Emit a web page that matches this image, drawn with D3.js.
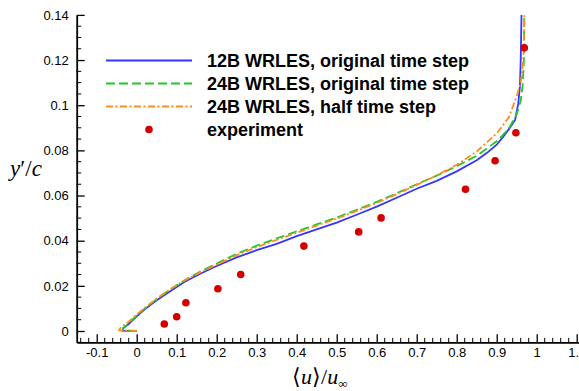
<!DOCTYPE html>
<html><head><meta charset="utf-8">
<script src="https://cdn.jsdelivr.net/npm/d3@7"></script>
<style>body{margin:0;background:#fff}svg{display:block}</style>
</head><body>
<svg id="c" width="579" height="391"></svg>
<script>
// ---- data ----
const xTicks = [-0.1,0,0.1,0.2,0.3,0.4,0.5,0.6,0.7,0.8,0.9,1,1.1];
const xTickLabels = ["-0.1","0","0.1","0.2","0.3","0.4","0.5","0.6","0.7","0.8","0.9","1","1.1"];
const yTicks = [0,0.02,0.04,0.06,0.08,0.1,0.12,0.14];
const yTickLabels = ["0","0.02","0.04","0.06","0.08","0.1","0.12","0.14"];
const seriesNames = ["12B WRLES, original time step","24B WRLES, original time step","24B WRLES, half time step","experiment"];

const u12 = [0,-0.035,-0.034,-0.02,0,0.02,0.05,0.08,0.12,0.16,0.2,0.25,0.3,0.35,0.4,0.45,0.5,0.55,0.6,0.65,0.7,0.75,0.8,0.85,0.875,0.9,0.9165,0.93,0.946,0.954,0.958,0.96,0.961,0.962];
const y12 = [0,0.0002,0.0012,0.0031,0.0065,0.0096,0.0136,0.0172,0.0218,0.0255,0.0288,0.0326,0.0358,0.0386,0.0420,0.0450,0.0480,0.0515,0.0551,0.0590,0.0630,0.0665,0.0707,0.0756,0.0788,0.0825,0.0861,0.0893,0.0935,0.1009,0.1082,0.1200,0.1300,0.1400];

const u24 = [0,-0.035,-0.034,-0.02,0,0.02,0.05,0.08,0.12,0.16,0.2,0.25,0.3,0.35,0.4,0.45,0.5,0.55,0.6,0.65,0.7,0.75,0.8,0.85,0.9,0.93,0.95,0.96,0.965,0.968,0.969];
const y24 = [0,0.0002,0.0012,0.0033,0.0069,0.0099,0.0141,0.0179,0.0225,0.0264,0.0299,0.0342,0.0378,0.0410,0.0441,0.0472,0.0503,0.0537,0.0572,0.0610,0.0650,0.0688,0.0730,0.0776,0.0840,0.0895,0.0960,0.1020,0.1090,0.1200,0.1400];

const u24h = [0,-0.044,-0.04,-0.02,0,0.02,0.05,0.08,0.12,0.16,0.2,0.25,0.3,0.35,0.4,0.45,0.5,0.55,0.6,0.65,0.7,0.75,0.8,0.85,0.9,0.93,0.95,0.96,0.965,0.968,0.969];
const y24h = [0,0.0004,0.0015,0.0041,0.0073,0.0103,0.0144,0.0181,0.0225,0.0261,0.0294,0.0336,0.0371,0.0404,0.0435,0.0467,0.0498,0.0532,0.0567,0.0606,0.0647,0.0689,0.0736,0.0795,0.0875,0.0945,0.1040,0.1100,0.1170,0.1260,0.1400];

const expU = [0.069,0.100,0.123,0.203,0.260,0.418,0.555,0.611,0.822,0.896,0.948,0.969];
const expY = [0.0031,0.0063,0.0125,0.0187,0.0250,0.0376,0.0439,0.0501,0.0628,0.0754,0.0878,0.1254];

// ---- drawing ----
const svg = d3.select("#c");
const x = d3.scaleLinear().domain([-0.15, 1.106]).range([76.7, 579.1]);
const y = d3.scaleLinear().domain([-0.005, 0.14]).range([342.3, 14.9]);

const colors = ["#3535ff","#22c822","#ff8c1e","#d40000"];
const dashes = [null,"9,4","7,2.5,2,2.5"];

svg.append("defs").append("clipPath").attr("id","clip")
  .append("rect").attr("x",x(-0.15)).attr("y",y(0.14)).attr("width",x(1.106)-x(-0.15)).attr("height",y(-0.005)-y(0.14));

const line = d3.line().x(d=>x(d[0])).y(d=>y(d[1]));
const curves = [d3.zip(u12,y12), d3.zip(u24,y24), d3.zip(u24h,y24h)];
const g = svg.append("g").attr("clip-path","url(#clip)");
curves.forEach((c,i)=>{
  g.append("path").datum(c).attr("d",line).attr("fill","none")
   .attr("stroke",colors[i]).attr("stroke-width",1.8)
   .attr("stroke-dasharray",dashes[i]);
});
g.selectAll("circle.exp").data(d3.zip(expU,expY)).enter().append("circle")
  .attr("cx",d=>x(d[0])).attr("cy",d=>y(d[1])).attr("r",3.8).attr("fill",colors[3]);

// axes
const font = "'Liberation Sans', Arial, Helvetica, sans-serif";
const xAxis = d3.axisBottom(x).tickValues(xTicks).tickFormat((d,i)=>xTickLabels[i]).tickSizeInner(-8).tickSizeOuter(0).tickPadding(5);
const gx = svg.append("g").attr("transform",`translate(0,${y(-0.005)})`).call(xAxis);
const xMinor = d3.range(-0.14, 1.105, 0.02).filter(v=>Math.abs(v*10-Math.round(v*10))>1e-6);
gx.selectAll("line.minor").data(xMinor).enter().append("line").attr("class","minor")
  .attr("x1",d=>x(d)).attr("x2",d=>x(d)).attr("y1",0).attr("y2",-4.5).attr("stroke","#000").attr("stroke-width",1);

const yAxis = d3.axisLeft(y).tickValues(yTicks).tickFormat((d,i)=>yTickLabels[i]).tickSizeInner(-8).tickSizeOuter(0).tickPadding(8);
const gy = svg.append("g").attr("transform",`translate(${x(-0.15)},0)`).call(yAxis);
const yMinor = d3.range(-0.005, 0.1401, 0.005).filter(v=>Math.abs(v*50-Math.round(v*50))>1e-6);
gy.selectAll("line.minor").data(yMinor).enter().append("line").attr("class","minor")
  .attr("y1",d=>y(d)).attr("y2",d=>y(d)).attr("x1",0).attr("x2",4.5).attr("stroke","#000").attr("stroke-width",1);

[gx,gy].forEach(a=>{
  a.select(".domain").attr("stroke","#000").attr("stroke-width",1.8);
  a.selectAll(".tick line").attr("stroke","#000").attr("stroke-width",1.3);
  a.selectAll("text").attr("font-family",font).attr("font-size",13).attr("fill","#000");
});

// axis titles
const serif = "'Liberation Serif','Times New Roman',Times,serif";
const yl = svg.append("text").attr("x",10).attr("y",176).attr("font-family",serif).attr("font-size",23).attr("fill","#000");
yl.append("tspan").attr("font-style","italic").text("y");
yl.append("tspan").text("′/");
yl.append("tspan").attr("font-style","italic").text("c");

const xl = svg.append("text").attr("x",292).attr("y",384).attr("font-family",serif).attr("font-size",22).attr("fill","#000");
xl.append("tspan").text("⟨");
xl.append("tspan").attr("font-style","italic").text("u");
xl.append("tspan").text("⟩/");
xl.append("tspan").attr("font-style","italic").text("u");
xl.append("tspan").attr("font-size",13).attr("dy",4).text("∞");

// legend
const legY = [60.5,83.5,106.5,129.5];
seriesNames.forEach((n,i)=>{
  if(i<3){
    svg.append("line").attr("x1",106).attr("x2",192).attr("y1",legY[i]).attr("y2",legY[i])
      .attr("stroke",colors[i]).attr("stroke-width",1.8).attr("stroke-dasharray",dashes[i]);
  } else {
    svg.append("circle").attr("cx",149).attr("cy",legY[i]).attr("r",3.8).attr("fill",colors[3]);
  }
  svg.append("text").attr("x",207).attr("y",legY[i]+6.5).attr("font-family",font)
    .attr("font-weight","bold").attr("font-size",18).attr("fill","#000").text(n);
});
</script>
</body></html>
